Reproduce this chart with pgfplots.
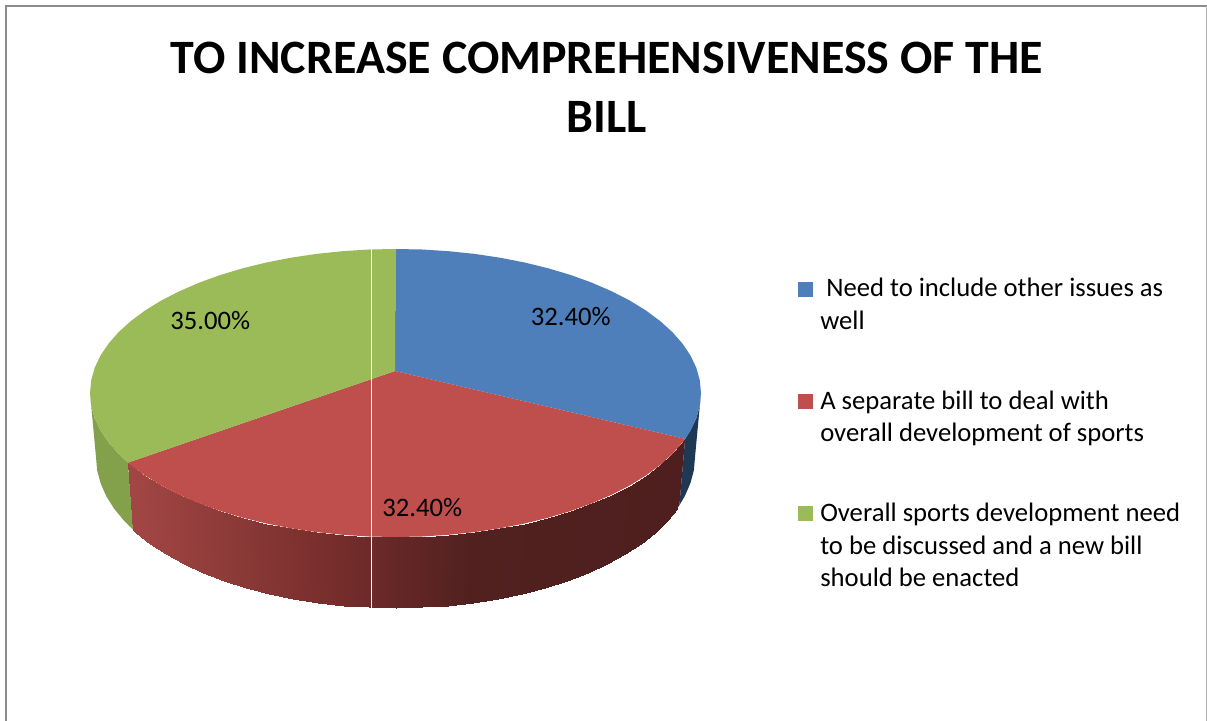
\documentclass[border=0pt]{standalone}
\usepackage{pgfplots}
\pgfplotsset{compat=1.18}
\usepackage{fontspec}
\setmainfont{Carlito}

% colours of the faces
\definecolor{pieblue}{RGB}{79,127,186}
\definecolor{piered}{RGB}{190,79,76}
\definecolor{piegreen}{RGB}{155,187,89}
\definecolor{wallblue}{RGB}{31,56,84}
\definecolor{wallgreen}{RGB}{131,160,74}

\newcommand{\lblfont}{\fontsize{20}{24.6}\selectfont}
% legend text: baseline on its first line
\newcommand{\entry}[1]{\begin{tabular}[t]{@{}l@{}}#1\end{tabular}}

\begin{document}
\begin{tikzpicture}
\begin{axis}[
    x=0.75pt, y=0.75pt,
    xmin=0, xmax=1207, ymin=0, ymax=721,
    y dir=reverse,
    hide axis,
    title={TO INCREASE COMPREHENSIVENESS OF THE\\BILL},
    title style={at={(0.5028,1)}, anchor=north, yshift=-34pt, align=center,
        font=\fontsize{35.95}{44}\selectfont\bfseries},
    colormap={redwall}{rgb255(0pt)=(161,70,68); rgb255(204pt)=(117,45,43); rgb255(337pt)=(81,33,32); rgb255(547pt)=(78,31,30)},
    point meta min=133, point meta max=680,
    legend style={at={(axis cs:798,273.7)}, anchor=north west, draw=none, fill=none,
        inner sep=0pt, row sep=65.4pt,
        nodes={inner sep=0pt, font=\lblfont},
        cells={anchor=base west},
        /tikz/every odd column/.append style={column sep=5.25pt}},
    legend image code/.code={\fill[#1] (0pt,0pt) rectangle (11.25pt,11.25pt);},
]

% white page, so the picture keeps its full size
\addplot[forget plot, draw=none, fill=white] coordinates {(0,0) (1207,0) (1207,721) (0,721)} -- cycle;

% frame of the chart area
\addplot[forget plot, color=black!45, line width=1.5pt] coordinates {(6,721) (6,6) (1206.5,6)};
\addplot[forget plot, color=black!30, line width=0.75pt] coordinates {(1206,6) (1206,721)};

% side wall, green
\addplot[forget plot, draw=none, fill=wallgreen] coordinates {
 (90,393) (91.2,405.6) (94.6,418.0) (100.4,430.3) (108.4,442.2) (118.6,453.9) (128.0,462.6)
 (133.3,530.0) (124.1,520.8) (114.1,508.6) (106.2,496.1) (100.6,483.2) (97.1,470.2) (96,457)
} -- cycle;

% side wall, blue
\addplot[forget plot, draw=none, fill=wallblue] coordinates {
 (701,393) (699.8,405.6) (696.4,418.0) (690.6,430.3) (685.1,438.9)
 (679.4,505.2) (684.8,496.1) (690.4,483.2) (693.9,470.2) (695,457)
} -- cycle;

% side wall, red: strips shaded by x
\addplot[forget plot, patch, patch type=rectangle, shader=interp, point meta=explicit,
  table/row sep=\\,
  patch table={
0 1 29 28\\
1 2 30 29\\
2 3 31 30\\
3 4 32 31\\
4 5 33 32\\
5 6 34 33\\
6 7 35 34\\
7 8 36 35\\
8 9 37 36\\
9 10 38 37\\
10 11 39 38\\
11 12 40 39\\
12 13 41 40\\
13 14 42 41\\
14 15 43 42\\
15 16 44 43\\
16 17 45 44\\
17 18 46 45\\
18 19 47 46\\
19 20 48 47\\
20 21 49 48\\
21 22 50 49\\
22 23 51 50\\
23 24 52 51\\
24 25 53 52\\
25 26 54 53\\
26 27 55 54\\
}] table[x=x, y=y, meta=c] {
x y c\\
128.0 462.6 128\\
130.9 465.0 131\\
145.2 475.6 145\\
161.5 485.6 161\\
179.5 494.8 180\\
199.1 503.3 199\\
220.3 511.0 220\\
242.7 517.7 243\\
266.4 523.5 266\\
291.0 528.3 291\\
316.4 532.1 316\\
342.5 534.8 343\\
368.9 536.5 369\\
395.5 537.0 396\\
422.1 536.5 422\\
448.5 534.8 449\\
474.6 532.1 475\\
500.0 528.3 500\\
524.6 523.5 525\\
548.3 517.7 548\\
570.7 511.0 571\\
591.9 503.3 592\\
611.5 494.8 612\\
629.5 485.6 630\\
645.8 475.6 646\\
660.1 465.0 660\\
672.4 453.9 672\\
682.6 442.2 683\\
133.3 530.0 128\\
136.1 532.5 131\\
150.2 543.6 145\\
166.1 554.1 161\\
183.7 563.8 180\\
203.0 572.7 199\\
223.7 580.7 220\\
245.7 587.8 243\\
268.9 593.9 266\\
293.1 598.9 291\\
318.0 602.9 316\\
343.5 605.7 343\\
369.4 607.4 369\\
395.5 608.0 396\\
421.6 607.4 422\\
447.5 605.7 449\\
473.0 602.9 475\\
497.9 598.9 500\\
522.1 593.9 525\\
545.3 587.8 548\\
567.3 580.7 571\\
588.0 572.7 592\\
607.3 563.8 612\\
624.9 554.1 630\\
640.8 543.6 646\\
654.9 532.5 660\\
666.9 520.8 672\\
676.9 508.6 683\\
};
% last bit of the red wall up to the blue edge
\addplot[forget plot, draw=none, fill={rgb,255:red,78;green,31;blue,30}] coordinates {
 (682.6,442.2) (685.1,438.9) (679.4,505.2) (676.9,508.6)
} -- cycle;

% top faces
\addplot[draw=none, fill=pieblue] coordinates {
 (395,371) (395.5,249) (422.1,249.5) (448.5,251.2) (474.6,253.9) (500.0,257.7) (524.6,262.5)
 (548.3,268.3) (570.7,275.0) (591.9,282.7) (611.5,291.2) (629.5,300.4) (645.8,310.4)
 (660.1,321.0) (672.4,332.1) (682.6,343.8) (690.6,355.7) (696.4,368.0) (699.8,380.4)
 (701,393) (699.8,405.6) (696.4,418.0) (690.6,430.3) (685.1,438.9)
} -- cycle;
\addlegendentry{\entry{\hspace{0.226em}Need to include other issues as\\well}}

\addplot[draw=none, fill=piered] coordinates {
 (395,371) (685.1,438.9) (682.6,442.2) (672.4,453.9) (660.1,465.0) (645.8,475.6) (629.5,485.6)
 (611.5,494.8) (591.9,503.3) (570.7,511.0) (548.3,517.7) (524.6,523.5) (500.0,528.3)
 (474.6,532.1) (448.5,534.8) (422.1,536.5) (395.5,537) (368.9,536.5) (342.5,534.8)
 (316.4,532.1) (291.0,528.3) (266.4,523.5) (242.7,517.7) (220.3,511.0) (199.1,503.3)
 (179.5,494.8) (161.5,485.6) (145.2,475.6) (130.9,465.0) (128.0,462.6)
} -- cycle;
\addlegendentry{\entry{A separate bill to deal with\\overall development of sports}}

\addplot[draw=none, fill=piegreen] coordinates {
 (395,371) (128.0,462.6) (118.6,453.9) (108.4,442.2) (100.4,430.3) (94.6,418.0) (91.2,405.6)
 (90,393) (91.2,380.4) (94.6,368.0) (100.4,355.7) (108.4,343.8) (118.6,332.1) (130.9,321.0)
 (145.2,310.4) (161.5,300.4) (179.5,291.2) (199.1,282.7) (220.3,275.0) (242.7,268.3)
 (266.4,262.5) (291.0,257.7) (316.4,253.9) (342.5,251.2) (368.9,249.5) (395.5,249)
} -- cycle;
\addlegendentry{\entry{Overall sports development need\\to be discussed and a new bill\\should be enacted}}

% thin white line through the pie
\addplot[forget plot, color=white, line width=0.6pt] coordinates {(371.7,249) (371.7,608)};

% data labels
\node[anchor=base west, inner sep=0pt, font=\lblfont] at (axis cs:530.6,325) {32.40\%};
\node[anchor=base west, inner sep=0pt, font=\lblfont] at (axis cs:382,516.7) {32.40\%};
\node[anchor=base west, inner sep=0pt, font=\lblfont] at (axis cs:170,329) {35.00\%};

\end{axis}
\end{tikzpicture}
\end{document}
